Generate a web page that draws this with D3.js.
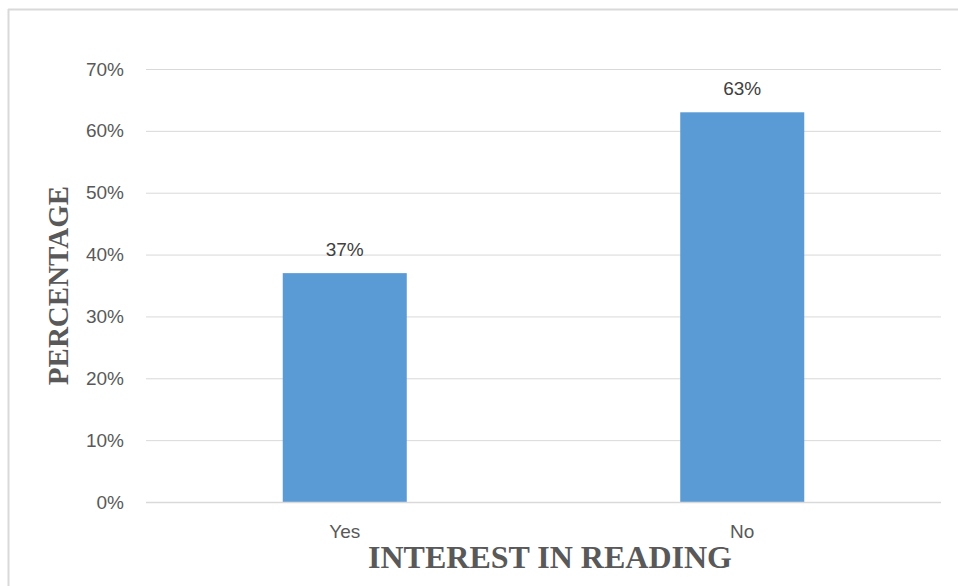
<!DOCTYPE html>
<html>
<head>
<meta charset="utf-8">
<script src="https://cdn.jsdelivr.net/npm/d3@7"></script>
<style>
  html, body { margin: 0; padding: 0; background: #fff; }
  svg { display: block; }
</style>
</head>
<body>
<svg id="chart" width="958" height="586"></svg>
<script>
// Interest in reading survey: share of respondents
const categories = ["Yes", "No"];
const values = [0.37, 0.63];
const dataLabels = ["37%", "63%"];
const yTicks = [0, 0.1, 0.2, 0.3, 0.4, 0.5, 0.6, 0.7];
const xTitle = "INTEREST IN READING";
const yTitle = "PERCENTAGE";

const svg = d3.select("#chart");
const W = 958, H = 586;
const plot = { left: 146, right: 941, top: 69, bottom: 502 };

// chart area frame (top and left edges visible)
svg.append("line").attr("x1", 8).attr("x2", W).attr("y1", 9.5).attr("y2", 9.5)
  .attr("stroke", "#d9d9d9").attr("stroke-width", 2);
svg.append("line").attr("x1", 8.5).attr("x2", 8.5).attr("y1", 9).attr("y2", H)
  .attr("stroke", "#d9d9d9").attr("stroke-width", 2);

const x = d3.scaleBand()
  .domain(categories)
  .range([plot.left, plot.right])
  .paddingInner(0.688)
  .paddingOuter(0.344);

const y = d3.scaleLinear()
  .domain([0, 0.7])
  .range([plot.bottom, plot.top]);

// gridlines + tick labels
const yAxis = d3.axisLeft(y)
  .tickValues(yTicks)
  .tickFormat(d3.format(".0%"))
  .tickSize(-(plot.right - plot.left))
  .tickPadding(22);

const gy = svg.append("g")
  .attr("transform", `translate(${plot.left},0)`)
  .call(yAxis);
gy.select(".domain").remove();
gy.selectAll(".tick line").attr("stroke", "#d9d9d9").attr("stroke-width", 1);
gy.selectAll(".tick text")
  .attr("fill", "#595959")
  .style("font-family", "'Liberation Sans', Arial, sans-serif")
  .style("font-size", "19px");

// bars
svg.append("g").selectAll("rect")
  .data(categories)
  .join("rect")
  .attr("x", (d) => x(d))
  .attr("width", x.bandwidth())
  .attr("y", (d, i) => y(values[i]))
  .attr("height", (d, i) => y(0) - y(values[i]))
  .attr("fill", "#5b9bd5");

// baseline
svg.append("line")
  .attr("x1", plot.left).attr("x2", plot.right)
  .attr("y1", y(0) + 0.5).attr("y2", y(0) + 0.5)
  .attr("stroke", "#d9d9d9").attr("stroke-width", 1.5);

// value labels
svg.append("g").selectAll("text")
  .data(categories)
  .join("text")
  .attr("x", (d) => x(d) + x.bandwidth() / 2)
  .attr("y", (d, i) => y(values[i]) - 17)
  .attr("text-anchor", "middle")
  .attr("fill", "#404040")
  .style("font-family", "'Liberation Sans', Arial, sans-serif")
  .style("font-size", "19px")
  .text((d, i) => dataLabels[i]);

// category labels
const xAxis = d3.axisBottom(x).tickSize(0).tickPadding(23);
const gx = svg.append("g")
  .attr("transform", `translate(0,${plot.bottom})`)
  .call(xAxis);
gx.select(".domain").remove();
gx.selectAll(".tick text")
  .attr("fill", "#595959")
  .style("font-family", "'Liberation Sans', Arial, sans-serif")
  .style("font-size", "19px");

// axis titles
svg.append("text")
  .attr("x", 550)
  .attr("y", 568)
  .attr("text-anchor", "middle")
  .attr("fill", "#595959")
  .style("font-family", "'Liberation Serif', 'Times New Roman', serif")
  .style("font-weight", "bold")
  .style("font-size", "32px")
  .text(xTitle);

svg.append("text")
  .attr("transform", "translate(68,285.5) rotate(-90)")
  .attr("text-anchor", "middle")
  .attr("fill", "#595959")
  .style("font-family", "'Liberation Serif', 'Times New Roman', serif")
  .style("font-weight", "bold")
  .style("font-size", "29px")
  .text(yTitle);
</script>
</body>
</html>
